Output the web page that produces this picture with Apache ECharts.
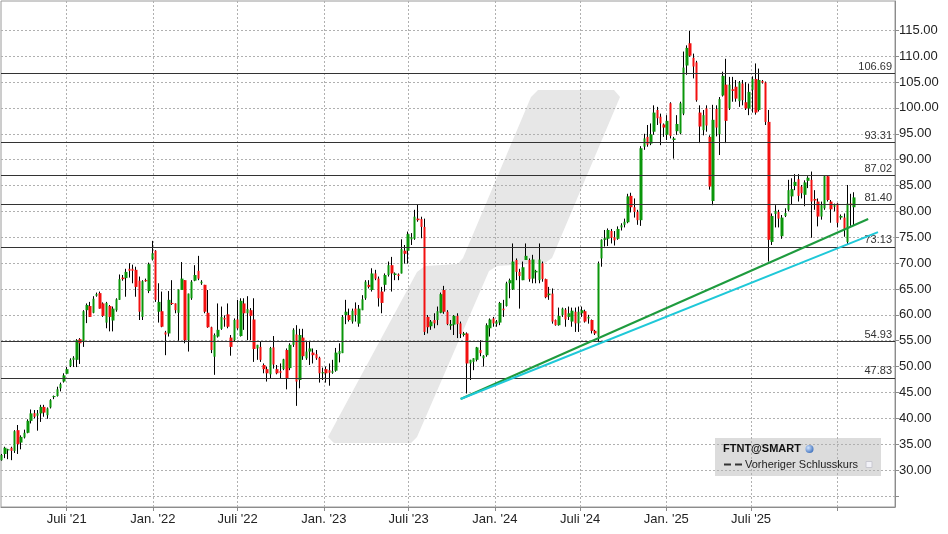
<!DOCTYPE html>
<html><head><meta charset="utf-8">
<script src="https://cdn.jsdelivr.net/npm/echarts@6/dist/echarts.min.js"></script>
<style>html,body{margin:0;padding:0;background:#fff}#c{width:948px;height:534px}</style>
</head><body><div id="c"></div>
<script>
// Weekly candles (week ending Friday), FTNT@SMART
const firstWeek = '2021-02-12';
const openPrices = [
31.9,33.1,33.8,34.3,33.7,37.7,35.3,36.3,37.2,39.5,
41.0,40.5,40.95,42.2,40.6,42.1,44.1,44.3,45.8,47.1,
48.6,50.1,51.3,51.3,55.3,54.9,60.9,61.7,60.4,63.7,
64.2,62.2,58.5,61.7,58.9,60.9,62.9,67.2,67.1,68.9,
68.9,68.7,66.6,59.6,66.7,64.6,70.7,72.4,60.6,60.7,
56.6,56.4,62.3,62.2,60.4,64.8,66.7,55.1,63.2,66.6,
68.5,66.1,65.8,60.4,57.6,51.9,55.8,57.3,59.4,60.1,
55.6,55.1,59.1,55.9,62.2,60.3,60.9,59.1,53.5,53.8,
50.3,49.5,48.5,53.7,49.5,49.1,49.5,53.2,49.7,54.2,
56.2,47.4,55.6,51.6,52.9,52.7,52.4,51.7,
48.7,49.5,49.3,48.8,49.2,52.4,52.6,59.96,59.96,58.7,
61.2,58.3,60.9,63.2,65.8,64.8,68.0,67.0,64.5,65.8,
67.7,69.6,67.7,67.8,68.0,72.4,72.4,74.6,74.7,78.6,
78.5,77.0,59.6,57.8,59.0,59.0,60.4,64.8,60.6,57.9,
58.1,59.8,58.35,56.1,56.4,50.6,50.9,51.3,53.2,51.6,
52.2,57.4,59.3,58.2,58.5,61.2,61.7,66.1,64.9,70.6,
68.3,66.7,70.6,70.6,67.0,68.2,66.7,69.95,66.9,63.8,
64.1,59.0,58.0,59.96,61.0,59.6,58.7,60.6,58.35,60.3,
60.7,59.3,59.0,56.9,55.8,70.9,74.5,74.7,76.2,75.0,
74.7,76.9,77.4,77.9,
83.0,80.8,79.9,78.3,92.5,94.4,93.1,95.4,99.6,98.3,
96.8,94.8,100.9,93.8,95.5,95.1,98.9,108.2,112.5,109.7,
108.8,99.1,95.7,99.9,94.4,82.0,99.8,94.9,102.4,104.5,
99.9,103.6,104.1,101.3,104.7,101.1,99.9,103.5,105.6,99.6,
105.2,104.9,97.3,74.1,79.5,79.9,75.2,79.1,80.3,82.9,
84.9,86.2,84.8,83.2,85.9,86.1,82.4,81.9,79.0,80.6,
86.8,81.9,80.9,81.5,78.8,78.8,74.1,81.5,80.8
];
const closePrices = [
32.9,34.3,34.0,33.7,37.5,35.0,36.4,37.2,39.5,40.95,
40.3,40.95,42.2,41.1,41.9,43.5,44.3,45.6,46.6,48.3,
49.5,51.3,51.7,55.1,54.5,60.7,61.9,59.6,63.1,64.0,
61.2,59.8,62.3,59.6,61.2,63.0,66.9,66.9,68.3,68.5,
68.5,65.4,60.6,66.5,66.5,69.8,71.9,62.9,62.5,57.7,
56.2,62.9,62.1,60.9,64.9,67.0,55.1,64.1,66.4,67.7,
67.0,66.4,60.6,57.6,53.2,56.1,57.1,59.6,59.1,57.7,
53.8,59.0,57.4,62.7,60.3,61.1,59.8,53.4,54.2,51.3,
49.5,48.7,53.6,50.4,48.7,48.8,51.4,47.7,54.2,57.1,
47.1,56.1,52.0,52.9,53.5,52.2,51.6,48.7,
48.9,48.7,48.8,49.1,52.7,53.0,59.6,60.6,59.0,60.8,
59.96,61.2,63.0,66.4,65.4,68.0,67.0,63.2,62.3,67.7,
69.6,68.0,68.0,67.5,72.7,71.8,75.6,75.0,78.97,78.3,
77.0,56.7,57.6,58.7,58.35,60.7,64.0,60.6,58.2,58.2,
59.8,58.2,56.3,56.4,50.6,51.3,51.6,53.7,52.6,52.1,
58.0,59.1,58.35,58.7,62.3,60.9,66.1,66.7,70.3,68.3,
67.5,69.2,71.4,66.9,70.7,68.5,70.7,66.9,63.4,64.1,
58.7,58.0,59.8,61.2,59.1,60.3,60.8,58.35,60.6,60.9,
58.7,59.6,56.9,56.4,69.95,74.5,74.8,76.4,74.9,74.4,
76.6,77.3,78.0,82.9,
80.8,79.9,78.3,92.2,94.1,92.9,94.9,99.1,98.0,97.0,
96.2,97.5,94.6,94.1,96.9,100.9,107.8,111.6,110.1,108.0,
101.5,96.4,98.6,96.6,84.8,97.7,96.2,101.7,106.2,97.5,
104.5,103.3,101.8,104.9,101.5,99.9,103.1,105.6,99.1,105.4,
104.9,97.3,74.5,79.1,80.1,78.6,78.8,79.7,84.1,84.3,
85.7,83.0,83.5,85.6,86.5,81.9,82.1,79.0,81.2,86.8,
82.2,80.4,81.2,77.8,79.1,76.4,81.5,81.2,82.7
];
const lowPrices = [
31.8,32.3,32.1,31.9,33.3,33.1,34.0,36.1,37.1,39.0,
40.0,37.6,39.3,40.3,39.9,41.9,43.7,44.2,45.2,46.9,
48.6,49.9,49.9,49.9,50.5,53.8,58.4,59.6,60.3,63.5,
61.2,59.6,57.4,56.8,56.8,60.6,62.9,66.6,63.5,67.2,
66.1,63.5,59.0,59.0,66.4,64.2,70.5,62.5,58.5,57.6,
52.2,55.8,61.9,60.3,55.0,64.8,54.5,52.9,62.9,66.5,
66.7,65.8,60.3,57.5,52.6,48.4,55.6,57.1,57.7,57.4,
52.1,54.8,57.1,55.8,57.1,55.1,55.1,50.9,51.3,50.9,
48.7,47.1,47.7,49.6,48.5,47.7,49.3,45.6,49.3,53.8,
42.4,45.8,51.3,51.3,50.3,50.6,51.3,46.9,
47.4,46.9,46.3,48.6,49.0,50.8,52.6,58.2,58.7,58.3,
58.7,57.7,60.9,62.9,65.1,64.5,66.7,61.6,60.3,64.5,
67.4,64.5,66.7,66.7,68.0,69.9,69.9,73.5,74.5,78.0,
74.8,56.1,56.4,57.1,57.4,58.0,60.3,60.2,58.0,57.1,
56.1,55.5,55.5,55.8,44.8,47.4,49.3,51.0,52.0,50.0,
51.9,55.8,57.7,57.7,58.0,59.6,61.6,63.2,64.8,66.7,
61.2,66.7,70.6,66.4,66.1,66.1,66.1,66.4,63.2,62.9,
58.3,57.9,57.9,59.6,57.7,59.0,57.7,56.7,56.7,59.6,
58.5,58.3,56.4,56.1,54.7,69.3,73.2,73.3,73.8,73.4,
74.5,76.3,76.9,77.7,
79.8,78.8,77.4,77.2,91.9,92.5,92.8,94.8,96.7,92.8,
94.4,93.8,94.1,90.2,94.8,94.9,98.6,106.4,109.9,105.7,
101.2,93.2,94.7,95.4,84.2,81.2,94.5,90.9,102.2,93.2,
99.6,101.2,101.2,100.2,100.5,99.6,98.6,99.1,98.7,99.3,
104.7,96.7,70.3,73.5,76.9,76.9,74.7,78.9,80.0,81.4,
84.1,81.9,82.5,81.0,84.5,74.9,80.3,77.1,78.4,80.3,
81.9,77.8,80.0,76.9,78.4,75.1,73.5,77.2,77.2
];
const highPrices = [
33.1,34.5,34.1,34.5,37.7,38.7,36.7,37.8,39.8,41.7,
41.6,41.6,42.6,42.6,42.1,43.7,44.4,46.1,46.9,48.7,
49.9,51.6,52.0,55.3,55.5,60.9,62.2,62.5,63.6,64.3,
64.5,62.4,62.5,61.9,61.6,63.2,67.8,67.7,68.9,70.0,
69.7,69.3,67.4,66.7,67.0,70.1,74.3,72.5,66.1,64.5,
56.9,64.6,66.7,62.2,64.9,70.2,66.7,64.1,66.7,69.6,
71.4,66.7,65.8,64.8,57.7,56.4,62.2,61.6,59.9,62.2,
56.1,59.3,62.9,63.2,63.2,63.6,61.3,63.2,54.2,54.8,
50.6,49.97,53.8,55.9,50.3,50.6,51.5,53.5,54.5,57.4,
58.0,57.3,57.3,54.8,54.8,53.5,53.2,51.9,
49.8,50.0,50.6,51.3,53.6,54.5,59.96,62.9,61.2,61.2,
62.4,61.9,63.8,66.7,66.7,69.0,68.7,67.4,65.4,68.0,
70.3,71.2,68.2,68.0,74.6,73.5,76.1,75.8,80.3,81.3,
78.97,78.6,59.96,59.0,60.3,61.6,64.3,65.6,60.9,59.0,
59.96,60.3,58.7,56.7,56.6,51.3,51.6,53.8,55.1,52.2,
58.35,59.3,59.6,59.0,62.5,62.9,66.4,67.0,73.8,70.9,
68.9,70.3,73.8,70.9,71.6,68.7,73.8,70.3,67.0,65.4,
65.1,59.1,61.4,61.4,61.3,61.6,61.4,61.4,61.6,61.6,
61.0,60.0,59.1,57.1,70.3,74.6,76.4,76.7,76.6,76.2,
77.1,77.7,78.6,83.4,
83.6,82.5,80.3,92.6,95.0,96.7,97.0,100.5,100.2,98.9,
97.0,98.6,101.1,94.4,98.6,101.2,110.9,112.1,114.9,110.5,
109.1,100.5,99.6,100.5,94.7,100.6,100.5,102.1,107.0,109.5,
106.0,106.0,105.4,105.2,105.4,105.0,104.7,106.1,108.6,107.6,
105.4,105.1,99.6,79.6,81.2,80.3,79.3,80.6,86.1,86.4,
87.2,87.2,85.1,86.0,86.8,87.7,84.1,82.5,81.9,87.0,
87.0,82.2,81.5,81.6,79.4,79.6,85.1,83.4,83.7
];
const levelValues = [106.69, 93.31, 87.02, 81.40, 73.13, 54.93, 47.83];
const xTickDates = ['2021-07-01','2022-01-01','2022-07-01','2023-01-01','2023-07-01','2024-01-01','2024-07-01','2025-01-01','2025-07-01','2026-01-01'];
const xTickLabels = ["Juli '21","Jan. '22","Juli '22","Jan. '23","Juli '23","Jan. '24","Juli '24","Jan. '25","Juli '25",""];
const yGridValues = [25,30,35,40,45,50,55,60,65,70,75,80,85,90,95,100,105,110,115];
const yLabelValues = [30,35,40,45,50,55,60,65,70,75,80,85,90,95,100,105,110,115];
const greenTrend = [['2023-10-20', 43.73], ['2026-03-08', 78.52]];
const cyanTrend = [['2023-10-20', 43.73], ['2026-03-29', 76.0]];
const xRange = ['2021-02-10T20:00:00Z', '2026-05-04T06:00:00Z'];
const yRange = [22.85, 120.67];

// ---- build ----
const DAY = 86400000;
const t0 = Date.parse(firstWeek);
const weekTs = openPrices.map((_, i) => t0 + i * 7 * DAY);
const fullData = weekTs.map((t, i) => [t, openPrices[i], closePrices[i], lowPrices[i], highPrices[i]]);
const bodyData = weekTs.map((t, i) => [t, openPrices[i], closePrices[i],
  Math.min(openPrices[i], closePrices[i]), Math.max(openPrices[i], closePrices[i])]);
const xTickTs = xTickDates.map(d => Date.parse(d));
const xLabelTs = xTickTs.filter((_, i) => xTickLabels[i] !== '');
const FONT = "'Liberation Sans', Arial, sans-serif";

const chart = echarts.init(document.getElementById('c'), null, {renderer: 'canvas'});
chart.setOption({
  animation: false,
  backgroundColor: '#ffffff',
  grid: {left: 1, right: 53, top: 1, bottom: 27, show: true, borderColor: '#9a9a9a', borderWidth: 1, backgroundColor: 'transparent'},
  xAxis: {
    type: 'value', min: Date.parse(xRange[0]), max: Date.parse(xRange[1]),
    axisLine: {show: true, lineStyle: {color: '#8c8c8c'}},
    axisTick: {show: true, length: 4, lineStyle: {color: '#8c8c8c'}, customValues: xTickTs},
    axisLabel: {
      customValues: xLabelTs, color: '#222', fontSize: 13, fontFamily: FONT, margin: 6,
      formatter: v => { let best = 0, bd = Infinity; xTickTs.forEach((t, i) => { const d = Math.abs(t - v); if (d < bd) { bd = d; best = i; } }); return xTickLabels[best]; }
    },
    splitLine: {show: true, lineStyle: {color: '#b0b0b0', type: [2, 2], width: 1}}
  },
  yAxis: {
    type: 'value', position: 'right', min: yRange[0], max: yRange[1],
    axisLine: {show: true, lineStyle: {color: '#8c8c8c'}},
    axisTick: {show: true, length: 4, lineStyle: {color: '#8c8c8c'}, customValues: yGridValues},
    axisLabel: {customValues: yLabelValues, color: '#222', fontSize: 13, fontFamily: FONT, margin: 4, formatter: v => v.toFixed(2)},
    splitLine: {show: true, lineStyle: {color: '#b0b0b0', type: [2, 2], width: 1}}
  },
  graphic: [
    {type: 'polygon', z: -20, silent: true,
     shape: {points: [[538,90],[614,90],[620,97],[552,258],[545,263],[497,266],[489,271],[417,437],[411,443],[334,443],[328,437],[417,272],[425,266],[458,264],[463,258],[531,97]]},
     style: {fill: '#e7e7e7'}},
    {type: 'rect', z: -10, silent: true, shape: {x: 715, y: 438, width: 166, height: 38}, style: {fill: '#dcdcdc'}},
    {type: 'text', z: 100, silent: true, style: {x: 723, y: 449, text: 'FTNT@SMART', font: "bold 11px " + FONT, fill: '#111', verticalAlign: 'middle'}},
    {type: 'circle', z: 100, silent: true, shape: {cx: 809.5, cy: 449, r: 4},
     style: {fill: {type: 'radial', x: 0.35, y: 0.35, r: 0.8, colorStops: [{offset: 0, color: '#cfe3ff'}, {offset: 1, color: '#2d63b5'}]}}},
    {type: 'line', z: 100, silent: true, shape: {x1: 724, y1: 464.5, x2: 742, y2: 464.5}, style: {stroke: '#333', lineWidth: 2, lineDash: [7, 4]}},
    {type: 'text', z: 100, silent: true, style: {x: 745, y: 465, text: 'Vorheriger Schlusskurs', font: "11px " + FONT, fill: '#222', verticalAlign: 'middle'}},
    {type: 'rect', z: 100, silent: true, shape: {x: 866, y: 461.5, width: 6, height: 6}, style: {fill: '#f2f2f8', stroke: '#c8c8d0', lineWidth: 1}}
  ],
  series: [
    {
      name: 'wick', type: 'candlestick', data: fullData, encode: {x: 0, y: [1, 2, 3, 4]},
      barWidth: 1, z: 3,
      itemStyle: {color: '#000', color0: '#000', borderColor: '#000', borderColor0: '#000', borderWidth: 1},
      markLine: {
        silent: true, symbol: ['none', 'none'], animation: false,
        lineStyle: {color: '#333', width: 1, type: 'solid'},
        label: {show: true, position: 'insideEndTop', distance: [3, 1], color: '#333', fontSize: 11, fontFamily: FONT,
                formatter: p => Number(p.value).toFixed(2)},
        data: levelValues.map(v => ({yAxis: v}))
      }
    },
    {
      name: 'body', type: 'candlestick', data: bodyData, encode: {x: 0, y: [1, 2, 3, 4]},
      barWidth: 3, z: 4,
      itemStyle: {color: '#0a960a', color0: '#f21010', borderColor: '#0a960a', borderColor0: '#f21010', borderWidth: 0}
    },
    {
      name: 'trendGreen', type: 'line', z: 6, showSymbol: false, symbol: 'none',
      data: greenTrend.map(p => [Date.parse(p[0]), p[1]]),
      lineStyle: {color: '#1e9b3e', width: 2}
    },
    {
      name: 'trendCyan', type: 'line', z: 7, showSymbol: false, symbol: 'none',
      data: cyanTrend.map(p => [Date.parse(p[0]), p[1]]),
      lineStyle: {color: '#1fc8d8', width: 2}
    }
  ]
});
</script></body></html>
